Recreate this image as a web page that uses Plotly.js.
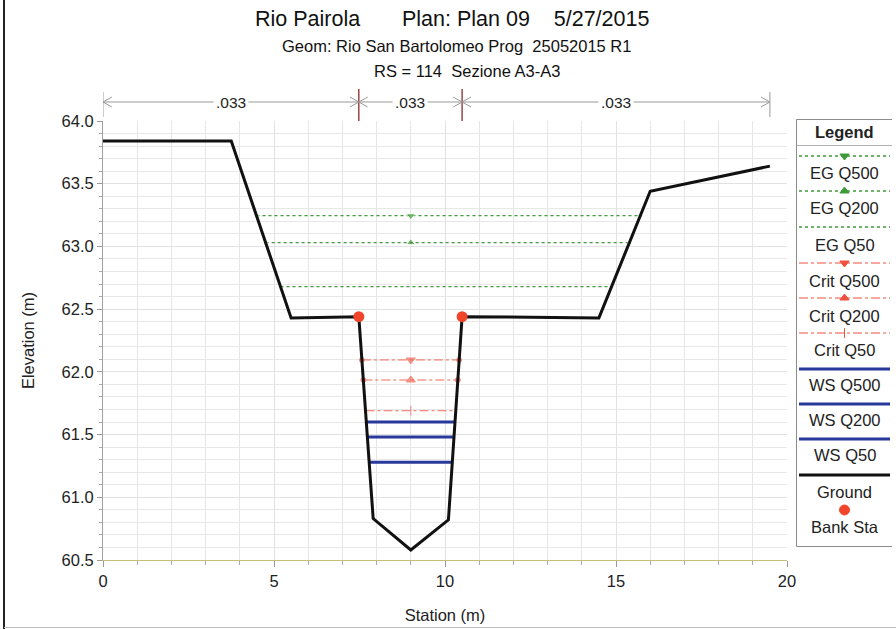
<!DOCTYPE html>
<html>
<head>
<meta charset="utf-8">
<script src="https://cdn.plot.ly/plotly-3.0.1.min.js"></script>
<style>html,body{margin:0;padding:0;background:#fff;}#chart{width:896px;height:629px;}</style>
</head>
<body>
<div id="chart"></div>
<script>
// ---------- data ----------
const stations   = [0, 3.75, 5.5, 7.48, 7.9, 9.0, 10.1, 10.5, 14.5, 16.0, 19.5];
const groundElev = [63.84, 63.84, 62.43, 62.44, 60.83, 60.58, 60.82, 62.44, 62.43, 63.44, 63.64];
const bankStations = [7.48, 10.5];
const bankElev     = [62.44, 62.44];
const profiles = ['Q500', 'Q200', 'Q50'];
const egElev   = [63.245, 63.03, 62.68];
const critElev = [62.095, 61.935, 61.69];
const wsElev   = [61.60, 61.48, 61.28];
const manningN      = ['.033', '.033', '.033'];
const manningBreaks = [0, 7.48, 10.5, 19.5];
const titleText = 'Rio Pairola&nbsp;&nbsp;&nbsp;&nbsp;&nbsp;&nbsp;&nbsp;Plan: Plan 09&nbsp;&nbsp;&nbsp;&nbsp;5/27/2015';
const subTitle1 = 'Geom: Rio San Bartolomeo Prog&nbsp;&nbsp;25052015 R1';
const subTitle2 = 'RS = 114&nbsp;&nbsp;Sezione A3-A3';

// ---------- helpers ----------
const FONT = 'Liberation Sans, Arial, sans-serif';
const L = 103, R = 4, T = 117, B = 69, W = 896, H = 629;
const PW = W - L - R, PH = H - T - B;
const px = X => (X - L) / PW;           // pixel -> paper x
const py = Y => (H - B - Y) / PH;       // pixel -> paper y

// thalweg (lowest ground point)
const iMin = groundElev.indexOf(Math.min(...groundElev));
const xCenter = stations[iMin];
function crossing(z, dir) {
  let i = iMin;
  while (i + dir >= 0 && i + dir < stations.length) {
    const j = i + dir;
    const z1 = groundElev[i], z2 = groundElev[j];
    if ((z1 - z) * (z2 - z) <= 0 && z2 !== z1 && z2 >= z) {
      return stations[i] + (stations[j] - stations[i]) * (z - z1) / (z2 - z1);
    }
    i = j;
  }
  return stations[i];
}

const egColor = '#3f9a3a', critColor = '#f0503c', wsColor = '#27399a', bankColor = '#f0452b';
const centerSym = ['triangle-down', 'triangle-up', 'line-ns'];

const traces = [];
// EG lines
profiles.forEach((p, k) => {
  const z = egElev[k], xl = crossing(z, -1), xr = crossing(z, 1);
  const hasSym = k < 2;
  traces.push({
    x: [xl, xCenter, xr], y: [z, z, z], mode: hasSym ? 'lines+markers' : 'lines',
    line: {color: egColor, width: 1.3, dash: 'dot'},
    marker: {symbol: ['circle', centerSym[k], 'circle'], size: [4, 8, 4], color: egColor},
    hoverinfo: 'skip'
  });
});
// Critical lines
profiles.forEach((p, k) => {
  const z = critElev[k], xl = crossing(z, -1), xr = crossing(z, 1);
  traces.push({
    x: [xl, xCenter, xr], y: [z, z, z], mode: 'lines+markers',
    line: {color: critColor, width: 1, dash: 'dashdot'},
    opacity: 0.85,
    marker: {symbol: k < 2 ? ['circle', centerSym[k], 'circle'] : ['circle', 'line-ns', 'circle'],
             size: k < 2 ? [5, 8, 5] : [0, 7, 0], color: critColor,
             line: {color: critColor, width: 1}},
    hoverinfo: 'skip'
  });
});
// Water surface
profiles.forEach((p, k) => {
  const z = wsElev[k];
  traces.push({
    x: [crossing(z, -1), crossing(z, 1)], y: [z, z], mode: 'lines',
    line: {color: wsColor, width: 3}, hoverinfo: 'skip'
  });
});
// Ground
traces.push({x: stations, y: groundElev, mode: 'lines', line: {color: '#111', width: 3}, hoverinfo: 'skip'});
// Bank stations
traces.push({x: bankStations, y: bankElev, mode: 'markers',
  marker: {color: bankColor, size: 11}, hoverinfo: 'skip'});

// ---------- custom legend (axes x2/y2 in pixel units) ----------
const legItems = [
  {name: 'EG Q500',   ly: 156, ty: 173, line: {color: egColor, width: 1.3, dash: 'dot'}, sym: 'triangle-down', mc: egColor},
  {name: 'EG Q200',   ly: 191, ty: 208, line: {color: egColor, width: 1.3, dash: 'dot'}, sym: 'triangle-up', mc: egColor},
  {name: 'EG Q50',    ly: 227, ty: 245, line: {color: egColor, width: 1.3, dash: 'dot'}, sym: null},
  {name: 'Crit Q500', ly: 263, ty: 281, line: {color: critColor, width: 1, dash: 'dashdot'}, sym: 'triangle-down', mc: critColor},
  {name: 'Crit Q200', ly: 298, ty: 316, line: {color: critColor, width: 1, dash: 'dashdot'}, sym: 'triangle-up', mc: critColor},
  {name: 'Crit Q50',  ly: 333, ty: 350, line: {color: critColor, width: 1, dash: 'dashdot'}, sym: 'line-ns', mc: critColor},
  {name: 'WS Q500',   ly: 369, ty: 385, line: {color: wsColor, width: 3}, sym: null},
  {name: 'WS Q200',   ly: 404, ty: 420, line: {color: wsColor, width: 3}, sym: null},
  {name: 'WS Q50',    ly: 439, ty: 455, line: {color: wsColor, width: 3}, sym: null},
  {name: 'Ground',    ly: 475, ty: 492, line: {color: '#111', width: 3}, sym: null},
  {name: 'Bank Sta',  ly: 510, ty: 527, line: null, sym: 'circle', mc: bankColor}
];
const annotations = [];
const shapes = [];
legItems.forEach(it => {
  if (it.line) {
    traces.push({x: [799, 890], y: [it.ly, it.ly], xaxis: 'x2', yaxis: 'y2', mode: 'lines',
      line: it.line, hoverinfo: 'skip'});
  }
  if (it.sym) {
    traces.push({x: [844.5], y: [it.ly], xaxis: 'x2', yaxis: 'y2', mode: 'markers',
      marker: {symbol: it.sym, size: it.sym === 'circle' ? 10 : (it.sym === 'line-ns' ? 7 : 8), color: it.mc,
               line: {color: it.mc, width: 1}}, hoverinfo: 'skip'});
  }
  annotations.push({xref: 'x2', yref: 'y2', x: 844.5, y: it.ty, text: it.name, showarrow: false,
    font: {family: FONT, size: 16.5, color: '#222'}, xanchor: 'center', yanchor: 'middle'});
});
annotations.push({xref: 'x2', yref: 'y2', x: 844.5, y: 132, text: '<b>Legend</b>', showarrow: false,
  font: {family: FONT, size: 16.5, color: '#222'}, xanchor: 'center', yanchor: 'middle'});
shapes.push({type: 'rect', xref: 'x2', yref: 'y2', x0: 796.5, x1: 892.5, y0: 119.5, y1: 546.5,
  line: {color: '#8c8c8c', width: 1}});
shapes.push({type: 'line', xref: 'x2', yref: 'y2', x0: 796.5, x1: 892.5, y0: 145.5, y1: 145.5,
  line: {color: '#b0b0b0', width: 1}});

// ---------- titles ----------
annotations.push({xref: 'paper', yref: 'paper', x: px(452), y: py(19), text: titleText, showarrow: false,
  font: {family: FONT, size: 21.5, color: '#111'}, xanchor: 'center', yanchor: 'middle'});
annotations.push({xref: 'paper', yref: 'paper', x: px(456), y: py(46), text: subTitle1, showarrow: false,
  font: {family: FONT, size: 16.5, color: '#111'}, xanchor: 'center', yanchor: 'middle'});
annotations.push({xref: 'paper', yref: 'paper', x: px(467), y: py(71), text: subTitle2, showarrow: false,
  font: {family: FONT, size: 16.5, color: '#111'}, xanchor: 'center', yanchor: 'middle'});

// ---------- Manning's n bar ----------
const nY = py(102), dxA = 0.26, dyA = 5 / PH;
shapes.push({type: 'line', xref: 'x', yref: 'paper', x0: manningBreaks[0], x1: manningBreaks[manningBreaks.length - 1],
  y0: nY, y1: nY, line: {color: '#999', width: 1}});
manningBreaks.forEach((b, i) => {
  const isEnd = (i === 0 || i === manningBreaks.length - 1);
  shapes.push({type: 'line', xref: 'x', yref: 'paper', x0: b, x1: b,
    y0: isEnd ? py(117) : py(121), y1: isEnd ? py(92) : py(89),
    line: {color: isEnd ? '#999' : '#8b2a2a', width: isEnd ? 1 : 1.3}});
  if (i > 0) shapes.push({type: 'path', xref: 'x', yref: 'paper',
    path: `M ${b - dxA} ${nY + dyA} L ${b} ${nY} L ${b - dxA} ${nY - dyA}`, line: {color: '#999', width: 1}});
  if (i < manningBreaks.length - 1) shapes.push({type: 'path', xref: 'x', yref: 'paper',
    path: `M ${b + dxA} ${nY + dyA} L ${b} ${nY} L ${b + dxA} ${nY - dyA}`, line: {color: '#999', width: 1}});
});
manningN.forEach((n, i) => {
  annotations.push({xref: 'x', yref: 'paper', x: (manningBreaks[i] + manningBreaks[i + 1]) / 2, y: nY,
    text: n, showarrow: false, bgcolor: '#fff', borderpad: 2,
    font: {family: FONT, size: 15.5, color: '#222'}, xanchor: 'center', yanchor: 'middle'});
});

// page frame (left edge)
shapes.push({type: 'line', xref: 'paper', yref: 'paper', x0: px(4), x1: px(4), y0: py(629), y1: py(0),
  line: {color: '#222', width: 2}});
shapes.push({type: 'line', xref: 'paper', yref: 'paper', x0: px(4), x1: px(896), y0: py(627.5), y1: py(627.5),
  line: {color: '#bbb', width: 1}});

const layout = {
  width: W, height: H,
  margin: {l: L, r: R, t: T, b: B},
  paper_bgcolor: '#fff', plot_bgcolor: '#fff',
  showlegend: false,
  font: {family: FONT, color: '#222'},
  xaxis: {
    domain: [0, 684 / PW], range: [0, 20], dtick: 5, tick0: 0,
    showgrid: true, gridcolor: '#e2e2e2', zeroline: false,
    showline: true, linecolor: '#c9bd7a', linewidth: 1,
    ticks: 'outside', ticklen: 6, tickcolor: '#999',
    minor: {dtick: 1, showgrid: true, gridcolor: '#e6e6e6', ticks: 'outside', ticklen: 4, tickcolor: '#aaa'},
    tickfont: {family: FONT, size: 16.5, color: '#222'},
    title: {text: 'Station (m)', font: {family: FONT, size: 16.5, color: '#222'}, standoff: 20}
  },
  yaxis: {
    domain: [0, 439 / PH], range: [60.5, 64.0], dtick: 0.5, tick0: 60.5, tickformat: '.1f',
    showgrid: true, gridcolor: '#e2e2e2', zeroline: false,
    showline: true, linecolor: '#9aa3a8', linewidth: 1,
    ticks: 'outside', ticklen: 5, tickcolor: '#999',
    minor: {dtick: 0.1, showgrid: true, gridcolor: '#e8e8e8', ticks: 'outside', ticklen: 3, tickcolor: '#aaa'},
    tickfont: {family: FONT, size: 16.5, color: '#222'},
    title: {text: 'Elevation (m)', font: {family: FONT, size: 16.5, color: '#222'}, standoff: 22}
  },
  xaxis2: {domain: [px(796), 1], range: [796, 892], visible: false, fixedrange: true, anchor: 'y2'},
  yaxis2: {domain: [0, 1], range: [560, 117], visible: false, fixedrange: true, anchor: 'x2'},
  annotations: annotations,
  shapes: shapes
};

Plotly.newPlot('chart', traces, layout, {displayModeBar: false, staticPlot: true});
</script>
</body>
</html>
